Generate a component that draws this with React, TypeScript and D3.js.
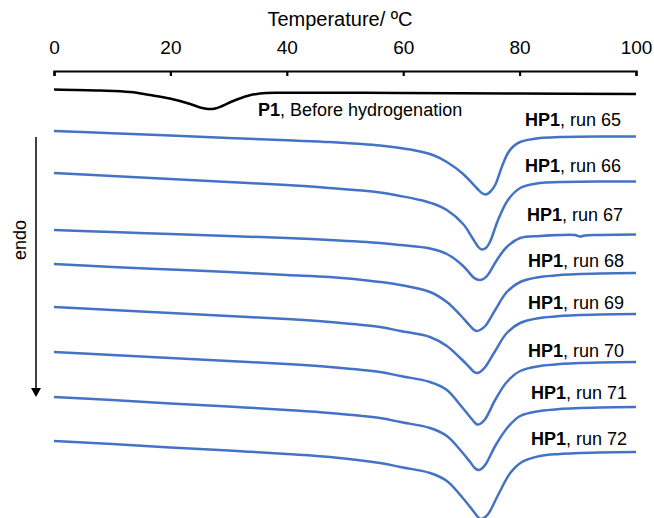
import React, { useRef, useEffect } from 'react';
import * as d3 from 'd3';

type Pt = [number, number];

// temperature (ºC) vs heat flow (a.u., endo down, curves offset)
const tickTemps = [0, 20, 40, 60, 80, 100];

const p1: Pt[] = [
  [0, -1.95], [7.9, -2.05], [13.1, -2.2], [16.5, -2.5], [19.9, -2.85], [23.4, -3.4],
  [25.1, -3.75], [26.5, -3.9], [27.7, -3.85], [28.9, -3.6], [30.8, -3.1], [33.2, -2.6],
  [35.4, -2.35], [39.3, -2.28], [59.5, -2.3], [80.1, -2.35], [100, -2.4],
];

const run65: Pt[] = [
  [0, -6.1], [10, -6.33], [20, -6.56], [30, -6.8], [40, -7.03], [47.4, -7.2], [52.9, -7.4],
  [56, -7.55], [59.5, -7.8], [62.9, -8.15], [65.3, -8.55], [67.5, -9.2], [70.3, -10.4],
  [72.7, -11.85], [73.5, -12.3], [74.2, -12.45], [75.0, -12.15], [75.8, -11.5], [77, -9.6],
  [78, -8.3], [79, -7.6], [80.1, -7.2], [83.5, -6.8], [86.9, -6.7], [93.8, -6.65], [100, -6.65],
];

const run66: Pt[] = [
  [0, -10.3], [10, -10.6], [20, -10.9], [30, -11.2], [40, -11.5], [47.4, -11.8], [52.9, -12.05],
  [56, -12.25], [59.5, -12.6], [62.9, -13.0], [65.3, -13.4], [67.5, -14.0], [70.3, -15.4],
  [72.0, -16.9], [72.9, -17.7], [73.5, -17.95], [74.2, -17.8], [74.9, -17.2], [76.3, -15.0],
  [78, -13.0], [80.1, -11.8], [83.5, -11.3], [86.9, -11.2], [93.8, -11.15], [100, -11.15],
];

const run67: Pt[] = [
  [0, -16.0], [10, -16.2], [20, -16.4], [30, -16.6], [40, -16.8], [47.4, -17.0], [56, -17.3],
  [59.5, -17.5], [64.6, -17.85], [67.5, -18.4], [70.3, -19.6], [72.0, -20.7], [72.5, -20.9],
  [73.2, -21.0], [73.9, -20.85], [74.6, -20.45], [76.1, -19.0], [77.8, -17.7], [80.1, -16.8],
  [83.5, -16.6], [86.9, -16.5], [89.5, -16.5], [90.4, -16.65], [91.2, -16.55], [93.8, -16.5],
  [100, -16.45],
];

const run68: Pt[] = [
  [0, -19.4], [10, -19.7], [20, -19.95], [30, -20.2], [40, -20.5], [47.4, -20.7], [56, -21.2],
  [59.5, -21.5], [64.6, -22.2], [67.5, -23.2], [69.8, -24.5], [71.5, -25.6], [72.2, -26.0],
  [72.7, -26.1], [73.2, -26.0], [74.1, -25.6], [75.8, -24.0], [77.8, -22.2], [80.1, -21.2],
  [83.5, -20.7], [86.9, -20.5], [93.8, -20.35], [100, -20.3],
];

const run69: Pt[] = [
  [0, -23.7], [10, -24.0], [20, -24.3], [30, -24.6], [40, -24.9], [47.4, -25.2], [56, -25.7],
  [59.5, -26.1], [64.6, -26.7], [67.5, -27.6], [69.8, -28.8], [71.5, -29.8], [72.2, -30.2],
  [72.7, -30.3], [73.2, -30.2], [74.1, -29.7], [75.8, -28.1], [77.8, -26.3], [80.1, -25.3],
  [83.5, -24.8], [86.9, -24.6], [93.8, -24.45], [100, -24.4],
];

const run70: Pt[] = [
  [0, -28.2], [10, -28.5], [20, -28.8], [30, -29.1], [40, -29.4], [47.4, -29.7], [56, -30.2],
  [59.5, -30.6], [64.6, -31.2], [67.5, -32.0], [69.8, -33.5], [71.5, -34.7], [72.2, -35.2],
  [72.7, -35.45], [73.2, -35.4], [74.1, -34.9], [75.8, -33.0], [77.8, -31.2], [80.1, -30.1],
  [83.5, -29.6], [86.9, -29.4], [93.8, -29.25], [100, -29.2],
];

const run71: Pt[] = [
  [0, -32.7], [10, -33.0], [20, -33.35], [30, -33.65], [40, -34.0], [47.4, -34.3], [56, -34.8],
  [59.5, -35.2], [64.6, -35.8], [67.5, -36.6], [69.8, -38.0], [71.5, -39.2], [72.3, -39.8],
  [72.9, -40.0], [73.4, -39.9], [74.2, -39.4], [75.9, -37.5], [78.0, -35.7], [80.1, -34.6],
  [83.5, -34.1], [86.9, -33.9], [93.8, -33.75], [100, -33.7],
];

const run72: Pt[] = [
  [0, -37.1], [10, -37.4], [20, -37.75], [30, -38.05], [40, -38.4], [47.4, -38.7], [56, -39.3],
  [59.5, -39.7], [64.6, -40.3], [67.5, -41.1], [69.8, -42.5], [71.5, -43.7], [72.7, -44.6],
  [73.2, -44.9], [73.7, -44.85], [74.6, -44.4], [76.3, -42.5], [78.4, -40.3], [80.4, -39.2],
  [83.5, -38.6], [86.9, -38.4], [93.8, -38.25], [100, -38.2],
];

const hp1Runs = [run65, run66, run67, run68, run69, run70, run71, run72];
const runNames = ['65', '66', '67', '68', '69', '70', '71', '72'];

// label placement: [px left of curve end, px above curve end]
const labelShift: Pt[] = [[15, 10.5], [15, 9.5], [13, 13.5], [12, 6], [12, 5], [12, 5], [9, 8], [9, 7]];

const W = 654;
const H = 518;
const FONT = '"Liberation Sans", Arial, Helvetica, sans-serif';
const BLUE = '#4472c4';

const App = () => {
  const svgRef = useRef<SVGSVGElement>(null);

  useEffect(() => {
    const svg = d3.select(svgRef.current);
    svg.selectAll('*').remove();

    const x = d3.scaleLinear().domain([0, 100]).range([54, 636]);
    const y = d3.scaleLinear().domain([0, -44.8]).range([70, 518]);

    const line = d3.line<Pt>()
      .x(d => x(d[0]))
      .y(d => y(d[1]))
      .curve(d3.curveCatmullRom.alpha(0.5));

    // top axis, ticks pointing down
    const axis = svg.append('g')
      .attr('transform', 'translate(0,71)')
      .call(d3.axisTop(x).tickValues(tickTemps).tickSize(-5).tickPadding(17));
    axis.select('.domain').attr('stroke', '#000').attr('stroke-width', 2.2);
    axis.selectAll('.tick line').attr('stroke', '#000').attr('stroke-width', 2.2);
    axis.selectAll('.tick text')
      .attr('fill', '#000')
      .style('font-family', FONT)
      .style('font-size', '19px');

    svg.append('text')
      .attr('x', 340)
      .attr('y', 26)
      .attr('text-anchor', 'middle')
      .style('font-family', FONT)
      .style('font-size', '20px')
      .text('Temperature/ ºC');

    // P1 curve
    svg.append('path')
      .datum(p1)
      .attr('d', line)
      .attr('fill', 'none')
      .attr('stroke', '#000')
      .attr('stroke-width', 2.5);

    const p1Label = svg.append('text')
      .attr('x', 258)
      .attr('y', 116)
      .style('font-family', FONT)
      .style('font-size', '18px');
    p1Label.append('tspan').attr('font-weight', 'bold').text('P1');
    p1Label.append('tspan').text(', Before hydrogenation');

    // HP1 runs
    svg.selectAll('.run')
      .data(hp1Runs)
      .enter()
      .append('path')
      .attr('class', 'run')
      .attr('d', line)
      .attr('fill', 'none')
      .attr('stroke', BLUE)
      .attr('stroke-width', 2.5);

    hp1Runs.forEach((run, i) => {
      const last = run[run.length - 1];
      const t = svg.append('text')
        .attr('x', x(last[0]) - labelShift[i][0])
        .attr('y', y(last[1]) - labelShift[i][1])
        .attr('text-anchor', 'end')
        .style('font-family', FONT)
        .style('font-size', '18px');
      t.append('tspan').attr('font-weight', 'bold').text('HP1');
      t.append('tspan').text(`, run ${runNames[i]}`);
    });

    // endo arrow
    svg.append('line')
      .attr('x1', 36).attr('x2', 36)
      .attr('y1', 137).attr('y2', 389)
      .attr('stroke', '#000')
      .attr('stroke-width', 1.5);
    svg.append('path')
      .attr('d', 'M31,388L41,388L36,397Z')
      .attr('fill', '#000');

    svg.append('text')
      .attr('transform', 'translate(26,240) rotate(-90)')
      .attr('text-anchor', 'middle')
      .style('font-family', FONT)
      .style('font-size', '18px')
      .text('endo');
  }, []);

  return (
    <svg
      ref={svgRef}
      width={W}
      height={H}
      style={{ position: 'absolute', left: 0, top: 0, background: '#fff' }}
    />
  );
};

export default App;
